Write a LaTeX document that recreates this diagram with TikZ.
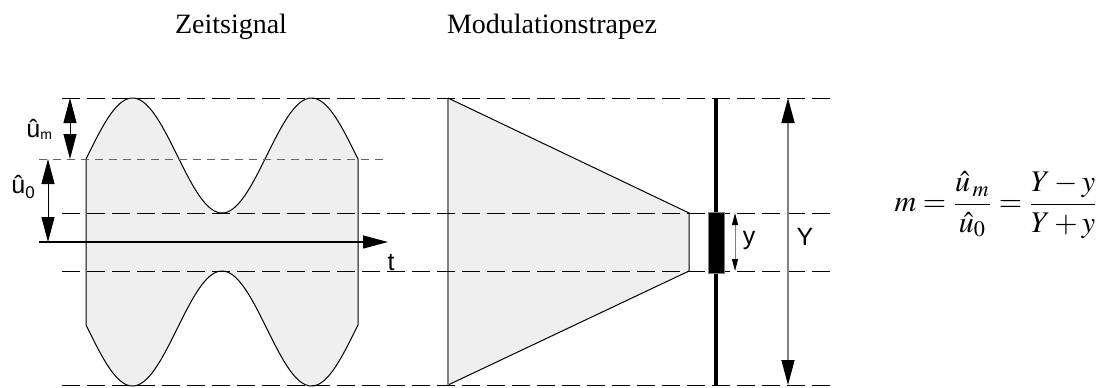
\documentclass[tikz,border=0pt]{standalone}
\usepackage{mathptmx}
\usepackage{fontspec}
\setmainfont{Liberation Serif}
\setsansfont{Liberation Sans}
\usetikzlibrary{arrows.meta,calc}
\definecolor{paleface}{RGB}{239,239,239}
\definecolor{midgray}{RGB}{128,128,128}
\definecolor{darkgray}{RGB}{102,102,102}
\tikzset{
  guide/.style={dash pattern=on 9pt off 3.5pt, line width=0.5pt},
  guidefine/.style={dash pattern=on 4pt off 3pt, line width=0.5pt, darkgray},
  bigdim/.style={{Triangle[length=12.5pt,width=6.5pt,color=black]}-{Triangle[length=12.5pt,width=6.5pt,color=black]},
                 line width=0.5pt},
  smalldim/.style={{Triangle[length=6pt,width=3pt,color=black]}-{Triangle[length=6pt,width=3pt,color=black]},
                   line width=0.5pt, midgray},
  title/.style={font=\fontsize{14}{16}\selectfont, anchor=base, inner sep=0pt},
  lbl/.style={font=\sffamily\fontsize{12.5}{14}\selectfont, anchor=base, inner sep=0pt},
  envelope/.style={fill=paleface, draw=black, line width=0.5pt},
}

\begin{document}
\begin{tikzpicture}[x=0.5pt, y=-0.5pt]
  \useasboundingbox (0,0) rectangle (1102,387);
  \node[title] (zeit) at (231,33) {Zeitsignal};
  \node[title] (trap) at (552,33) {Modulationstrapez};
  % time signal
  \path[envelope]
    plot[domain=-3.5:543.5, samples=140] ({86+0.49726*(\x+3.5)}, {155.5-57.5*sin(\x)})
    -- plot[domain=543.5:-3.5, samples=140] ({86+0.49726*(\x+3.5)}, {328.5+57.5*sin(\x)})
    -- cycle;
  % trapezoid
  \fill[paleface] (448,98) -- (689,213) -- (689,271) -- (448,385) -- cycle;
  \draw[line width=0.5pt] (448,98) -- (689,213) -- (689,271) -- (448,385);
  \draw[midgray, line width=0.7pt] (448,98) -- (448,385);
  % guide lines
  \draw[guide] (62,98) -- (835,98);
  \draw[guide] (62,213) -- (835,213);
  \draw[guide] (62,271) -- (835,271);
  \draw[guide] (62,385) -- (835,385);
  \draw[guidefine] (39,159) -- (387,159);
  % time axis
  \coordinate (t0) at (39,242);
  \coordinate (t1) at (388,242);
  \draw[-{Triangle[length=12.5pt,width=6.5pt]}, line width=0.6pt] (t0) -- (t1);
  \node[lbl] (tlab) at (391,270) {t};
  % amplitudes
  \coordinate (umtop) at (70,98);
  \coordinate (umbot) at (70,159);
  \draw[bigdim] (umtop) -- (umbot);
  \node[lbl, anchor=base west] (um) at (26,137) {û\raisebox{-1pt}{\fontsize{7}{8}\selectfont m}};
  \coordinate (u0top) at (48,159);
  \coordinate (u0bot) at (48,242);
  \draw[bigdim] (u0top) -- (u0bot);
  \node[lbl, anchor=base west] (u0) at (11,193) {û\raisebox{-2.5pt}{\fontsize{8.5}{9}\selectfont 0}};
  % screen
  \draw[line width=1.6pt] (716,98) -- (716,385);
  \node[fill=black, draw=midgray, line width=0.4pt, minimum width=8pt, minimum height=30.5pt,
        inner sep=0pt] (spot) at (716,242.5) {};
  \coordinate (ytop) at (735,213);
  \coordinate (ybot) at (735,271);
  \draw[smalldim] (ytop) -- (ybot);
  \node[lbl] (ylab) at (749,244) {y};
  \coordinate (Ytop) at (788,98);
  \coordinate (Ybot) at (788,385);
  \draw[bigdim, midgray, line width=0.75pt] (Ytop) -- (Ybot);
  \node[lbl] (Ylab) at (805,245) {Y};
  % formula
  \node[font=\fontsize{15}{18}\selectfont] (form) at (996,205)
    {$\displaystyle m=\frac{\hat u_{\,m}}{\hat u_0}=\frac{Y-y}{Y+y}$};
\end{tikzpicture}
\end{document}
